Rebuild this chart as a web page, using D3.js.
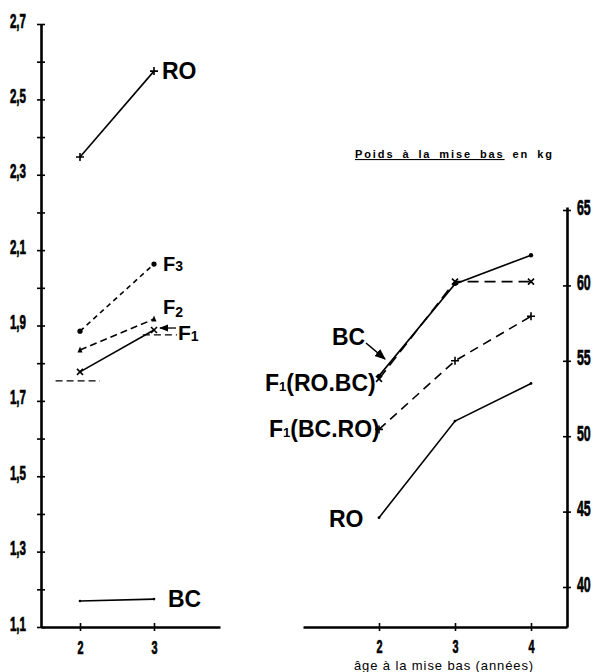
<!DOCTYPE html>
<html>
<head>
<meta charset="utf-8">
<script src="https://cdn.jsdelivr.net/npm/d3@7"></script>
<style>
  body { margin: 0; background: #fff; }
  svg { display: block; }
  .num { font-family: "Liberation Sans", Arial, sans-serif; font-weight: bold; }
  .lab { font-family: "Liberation Sans", Arial, sans-serif; font-weight: bold; }
</style>
</head>
<body>
<svg width="600" height="672"></svg>
<script>
// left panel : ages 2 and 3
const leftAges = [2, 3];
const roLeft = [2.347, 2.575];
const f3Left = [1.885, 2.063];
const f2Left = [1.835, 1.917];
const f1Left = [1.777, 1.888];
const bcLeft = [1.169, 1.174];
const midLeft = [1.753, 1.875];   // dashed reference levels
const leftTicks = [1.1, 1.2, 1.3, 1.4, 1.5, 1.6, 1.7, 1.8, 1.9, 2.0, 2.1, 2.2, 2.3, 2.4, 2.5, 2.6, 2.7];

// right panel : Poids à la mise bas en kg
const rightAges = [2, 3, 4];
const bcRight = [54.0, 60.1, 62.0];
const f1RoBc = [53.8, 60.25, 60.25];
const f1BcRo = [50.45, 55.0, 57.95];
const roRight = [44.6, 51.0, 53.5];
const rightTicks = [40, 45, 50, 55, 60, 65];

const svg = d3.select("svg");
const comma = d3.formatLocale({decimal: ",", thousands: ".", grouping: [3], currency: ["", ""]}).format(".1f");

// scales
const xL = d3.scaleLinear().domain([2, 3]).range([80, 154]);
const yL = d3.scaleLinear().domain([1.1, 2.7]).range([627, 24]);
const xR = d3.scaleLinear().domain([2, 4]).range([379, 531]);
const yR = d3.scaleLinear().domain([40, 65]).range([587, 210]);

// ---- axes ----
// tick marks cross the axis line, numbers are squeezed like the condensed print type
function crossTicks(g, vertical) {
  g.select(".domain").attr("stroke-width", 2.6);
  g.selectAll(".tick line").attr("stroke-width", 1.6);
  if (vertical) g.selectAll(".tick line").attr("x1", 4).attr("x2", -4);
  else g.selectAll(".tick line").attr("y1", -4).attr("y2", 4);
  g.selectAll(".tick text").attr("class", "num").attr("fill", "#000")
    .attr("stroke", "#000").attr("stroke-width", 0.7);
}
function squeeze(g, dx, dy, size, sx) {
  g.selectAll(".tick text").attr("x", 0).attr("y", 0).attr("dy", null)
    .attr("font-size", size)
    .attr("transform", `translate(${dx},${dy}) scale(${sx},1)`);
}

// left vertical axis
svg.append("g")
  .attr("transform", "translate(41,0)")
  .call(d3.axisLeft(yL).tickValues(leftTicks).tickSizeOuter(0)
    .tickFormat(d => Math.round(d * 10) % 2 === 1 ? comma(d) : ""))
  .call(g => crossTicks(g, true))
  .call(g => squeeze(g, -15, 3, 20, 0.58));

// left bottom axis
const xLaxis = d3.scaleLinear().domain([xL.invert(41), xL.invert(220)]).range([41, 220]);
svg.append("g")
  .attr("transform", "translate(0,627)")
  .call(d3.axisBottom(xLaxis).tickValues(leftAges).tickSizeOuter(0).tickFormat(d3.format("d")))
  .call(g => crossTicks(g, false))
  .call(g => squeeze(g, 0, 27, 18, 0.6));

// right vertical axis
const yRaxis = d3.scaleLinear().domain([yR.invert(627), 65.2]).range([627, yR(65.2)]);
svg.append("g")
  .attr("transform", "translate(567,0)")
  .call(d3.axisRight(yRaxis).tickValues(rightTicks).tickSizeOuter(0).tickFormat(d3.format("d")))
  .call(g => crossTicks(g, true))
  .call(g => g.selectAll(".tick text").attr("text-anchor", "start"))
  .call(g => squeeze(g, 10, 4, 22, 0.56));

// right bottom axis
const xRaxis = d3.scaleLinear().domain([xR.invert(303), xR.invert(567)]).range([303, 567]);
svg.append("g")
  .attr("transform", "translate(0,627)")
  .call(d3.axisBottom(xRaxis).tickValues(rightAges).tickSizeOuter(0).tickFormat(d3.format("d")))
  .call(g => crossTicks(g, false))
  .call(g => squeeze(g, 0, 26, 18, 0.6));

// ---- lines and markers ----
function drawSeries(xs, ys, xScale, yScale, dash, marker, size) {
  const pts = xs.map((x, i) => [xScale(x), yScale(ys[i])]);
  svg.append("path")
    .attr("d", d3.line()(pts))
    .attr("fill", "none").attr("stroke", "#000").attr("stroke-width", 1.6)
    .attr("stroke-dasharray", dash);
  pts.forEach(p => drawMarker(p, marker, size));
}
function drawMarker([x, y], type, s) {
  if (type === "plus") {
    svg.append("path").attr("d", `M${x - s},${y}H${x + s}M${x},${y - s}V${y + s}`)
      .attr("stroke", "#000").attr("stroke-width", 1.6);
  } else if (type === "cross") {
    svg.append("path").attr("d", `M${x - s},${y - s}L${x + s},${y + s}M${x - s},${y + s}L${x + s},${y - s}`)
      .attr("stroke", "#000").attr("stroke-width", 1.6);
  } else if (type === "dot") {
    svg.append("circle").attr("cx", x).attr("cy", y).attr("r", s).attr("fill", "#000");
  } else if (type === "tri") {
    svg.append("path").attr("d", `M${x},${y - s - 1}L${x + s},${y + s}L${x - s},${y + s}Z`).attr("fill", "#000");
  }
}

drawSeries(leftAges, roLeft, xL, yL, null, "plus", 4);
drawSeries(leftAges, f3Left, xL, yL, "5,4", "dot", 2.6);
drawSeries(leftAges, f2Left, xL, yL, "7,4", "tri", 2.5);
drawSeries(leftAges, f1Left, xL, yL, null, "cross", 3);
drawSeries(leftAges, bcLeft, xL, yL, null, "dot", 1.3);

// dashed reference segments
[[1.67, 2.27], [2.85, 3.31]].forEach((r, i) => {
  svg.append("line")
    .attr("x1", xL(r[0])).attr("x2", xL(r[1]))
    .attr("y1", yL(midLeft[i])).attr("y2", yL(midLeft[i]))
    .attr("stroke", "#000").attr("stroke-width", 1.4).attr("stroke-dasharray", "7,4");
});

drawSeries(rightAges, bcRight, xR, yR, null, "dot", 2.2);
drawSeries(rightAges, f1RoBc, xR, yR, "11,6", "cross", 3);
drawSeries(rightAges, f1BcRo, xR, yR, "9,6", "plus", 4);
drawSeries(rightAges, roRight, xR, yR, null, "dot", 1.4);

// ---- labels ----
svg.append("defs").append("marker")
  .attr("id", "arr").attr("viewBox", "0 0 10 10").attr("refX", 9).attr("refY", 5)
  .attr("markerWidth", 7).attr("markerHeight", 7).attr("orient", "auto")
  .append("path").attr("d", "M0,1L10,5L0,9Z").attr("fill", "#000");

function label(x, y, main, sub, size, subSize, after) {
  const t = svg.append("text").attr("class", "lab").attr("x", x).attr("y", y)
    .attr("font-size", size).attr("fill", "#000");
  t.append("tspan").text(main);
  if (sub) t.append("tspan").attr("font-size", subSize).attr("dy", sub.dy || 0).text(sub.t);
  if (after) t.append("tspan").attr("dy", -(sub.dy || 0)).text(after);
  return t;
}

label(xL(3) + 8, yL(roLeft[1]) + 8, "RO", null, 23);
label(xL(3) + 9, yL(f3Left[1]) + 7, "F", {t: "3", dy: 0}, 20, 14);
label(xL(3) + 9, yL(f2Left[1]) - 5, "F", {t: "2", dy: 3}, 20, 14);
label(xL(3) + 24, yL(f1Left[1]) + 10, "F", {t: "1", dy: 1}, 21, 14);
label(xL(3) + 14, yL(bcLeft[1]) + 8, "BC", null, 23);
svg.append("line").attr("x1", xL(3) + 22).attr("x2", xL(3) + 6)
  .attr("y1", yL(f1Left[1]) - 2).attr("y2", yL(f1Left[1]) - 2)
  .attr("stroke", "#000").attr("stroke-width", 1.3).attr("marker-end", "url(#arr)");

label(332, 345, "BC", null, 23);
svg.append("line").attr("x1", 366).attr("y1", 343).attr("x2", 385).attr("y2", 359)
  .attr("stroke", "#000").attr("stroke-width", 1.6).attr("marker-end", "url(#arr)");
label(265, yR(f1RoBc[0]) + 12, "F", {t: "1", dy: 0}, 23, 13, "(RO.BC)");
label(269, yR(f1BcRo[0]) + 8, "F", {t: "1", dy: 0}, 23, 13, "(BC.RO)");
label(329, yR(roRight[0]) + 9, "RO", null, 23);

// title
const title = svg.append("text").attr("x", 355).attr("y", 158)
  .attr("font-family", "Liberation Sans, Arial, sans-serif").attr("font-weight", "bold")
  .attr("font-size", 11).attr("letter-spacing", 1.9).attr("word-spacing", 3).attr("fill", "#000");
title.append("tspan").attr("text-decoration", "underline").text("Poids à la mise bas");
title.append("tspan").text(" en kg");

// x label
svg.append("text").attr("x", 444).attr("y", 670).attr("text-anchor", "middle")
  .attr("font-family", "Liberation Sans, Arial, sans-serif").attr("font-size", 13)
  .attr("letter-spacing", 0.9).attr("fill", "#000")
  .text("âge à la mise bas (années)");
</script>
</body>
</html>
